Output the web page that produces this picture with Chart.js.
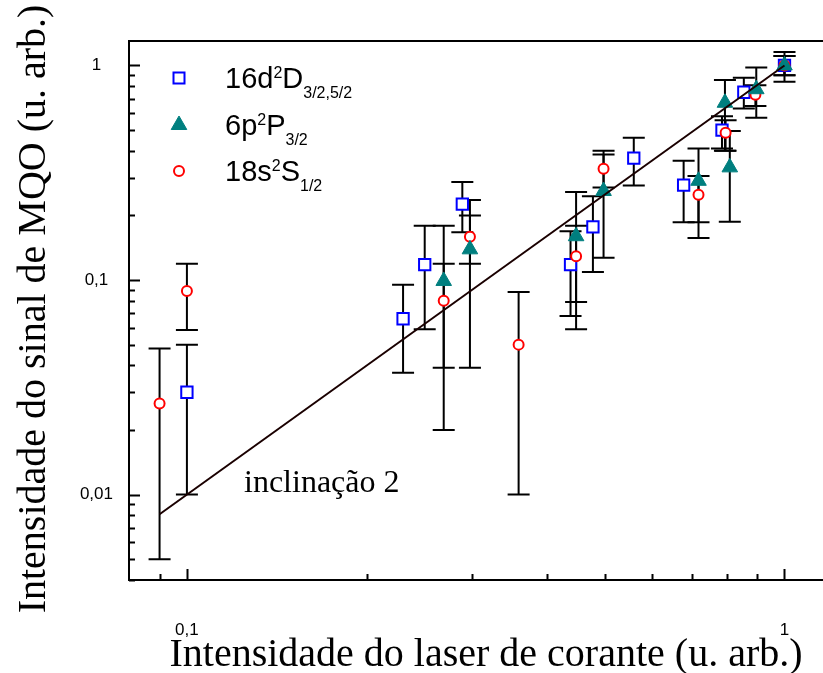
<!DOCTYPE html>
<html lang="pt">
<head>
<meta charset="UTF-8">
<title>Intensidade do sinal de MQO</title>
<style>
  html, body { margin: 0; padding: 0; background: #fff; overflow: hidden; }
  #chart { display: block; }
</style>
</head>
<body>
<canvas id="chart" width="823" height="673"></canvas>
<script src="https://cdn.jsdelivr.net/npm/chart.js@4.4.1/dist/chart.umd.min.js"></script>
<script>
// 16d 2D 3/2,5/2
var dX  = [0.1, 0.23, 0.25, 0.289, 0.4385, 0.478, 0.5595, 0.678, 0.786, 0.855, 1.0];
var dY  = [0.03, 0.066, 0.118, 0.226, 0.118, 0.177, 0.37, 0.277, 0.5, 0.75, 1.0];
var dLo = [0.01, 0.037, 0.059, 0.167, 0.068, 0.109, 0.276, 0.186, 0.41, 0.63, 0.9];
var dHi = [0.05, 0.095, 0.179, 0.286, 0.169, 0.246, 0.46, 0.36, 0.58, 0.877, 1.107];

// 6p 2P 3/2
var pX  = [0.269, 0.2976, 0.448, 0.498, 0.718, 0.795, 0.81, 0.897, 1.0];
var pY  = [0.099, 0.139, 0.16, 0.26, 0.29, 0.67, 0.335, 0.775, 1.0];
var pLo = [0.039, 0.039, 0.059, 0.127, 0.157, 0.40, 0.187, 0.571, 0.84];
var pHi = [0.179, 0.2, 0.257, 0.385, 0.41, 0.856, 0.495, 0.977, 1.156];

// 18s 2S 1/2
var sX  = [0.09, 0.1, 0.269, 0.2976, 0.359, 0.448, 0.498, 0.718, 0.797, 0.894, 1.0];
var sY  = [0.0266, 0.089, 0.08, 0.159, 0.05, 0.129, 0.33, 0.25, 0.486, 0.73, 1.0];
var sLo = [0.005, 0.0585, 0.02, 0.119, 0.01, 0.079, 0.27, 0.186, 0.40, 0.647, 0.9];
var sHi = [0.048, 0.119, 0.119, 0.236, 0.088, 0.179, 0.40, 0.305, 0.555, 0.808, 1.107];

// slope 2 line
var fitX = [0.09, 1.0];
var fitY = [0.0081, 1.0];

var xTicks = [0.1, 1];
var yTicks = [0.01, 0.1, 1];
var xRange = [0.08, 1.16];
var yRange = [0.004, 1.3];

var legendLabels = [
    [['16d', 'n'], ['2', 'sup'], ['D', 'n'], ['3/2,5/2', 'sub']],
    [['6p', 'n'], ['2', 'sup'], ['P', 'n'], ['3/2', 'sub']],
    [['18s', 'n'], ['2', 'sup'], ['S', 'n'], ['1/2', 'sub']]
];

var serif = "'Liberation Serif', 'Times New Roman', serif";
var sans = "'Liberation Sans', Arial, sans-serif";
var blue = '#0000ff', teal = '#007f7f', red = '#ff0000';

function pts(xs, ys) {
    return xs.map(function (x, i) { return { x: x, y: ys[i] }; });
}

function marker(ctx, style, x, y, color) {
    ctx.save();
    ctx.strokeStyle = color;
    ctx.fillStyle = color;
    ctx.lineWidth = 2;
    ctx.beginPath();
    if (style === 'rect') {
        ctx.rect(x - 5.5, y - 5.5, 11, 11);
        ctx.fillStyle = '#fff';
        ctx.fill();
        ctx.stroke();
    } else if (style === 'triangle') {
        ctx.lineWidth = 1;
        ctx.moveTo(x, y - 9);
        ctx.lineTo(x + 7.8, y + 4.5);
        ctx.lineTo(x - 7.8, y + 4.5);
        ctx.closePath();
        ctx.fill();
        ctx.stroke();
    } else {
        ctx.arc(x, y, 5, 0, Math.PI * 2);
        ctx.fillStyle = '#fff';
        ctx.fill();
        ctx.stroke();
    }
    ctx.restore();
}

function richText(ctx, parts, x, base) {
    parts.forEach(function (p) {
        var dy = 0;
        if (p[1] === 'n') {
            ctx.font = '29px ' + sans;
        } else {
            ctx.font = '16px ' + sans;
            dy = p[1] === 'sup' ? -10 : 10;
        }
        ctx.fillText(p[0], x, base + dy);
        x += ctx.measureText(p[0]).width;
    });
}

var errorBars = {
    id: 'errorBars',
    beforeDatasetsDraw: function (chart) {
        var ctx = chart.ctx, ys = chart.scales.y;
        ctx.save();
        ctx.strokeStyle = '#000';
        ctx.lineWidth = 2;
        chart.data.datasets.forEach(function (ds, i) {
            if (!ds.errLo) return;
            var meta = chart.getDatasetMeta(i);
            meta.data.forEach(function (pt, j) {
                var top = ys.getPixelForValue(ds.errHi[j]);
                var bot = ys.getPixelForValue(ds.errLo[j]);
                ctx.beginPath();
                ctx.moveTo(pt.x, top);
                ctx.lineTo(pt.x, bot);
                ctx.moveTo(pt.x - 11, top);
                ctx.lineTo(pt.x + 11, top);
                ctx.moveTo(pt.x - 11, bot);
                ctx.lineTo(pt.x + 11, bot);
                ctx.stroke();
            });
        });
        ctx.restore();
    }
};

var decorations = {
    id: 'decorations',
    afterDraw: function (chart) {
        var ctx = chart.ctx, a = chart.chartArea;
        var xs = chart.scales.x, ys = chart.scales.y;
        ctx.save();
        ctx.strokeStyle = '#000';
        ctx.lineWidth = 2;

        ctx.beginPath();
        ctx.moveTo(a.left - 1, a.top);
        ctx.lineTo(a.right, a.top);
        ctx.stroke();

        // inward log ticks
        ctx.beginPath();
        for (var e = -3; e <= 0; e++) {
            for (var m = 1; m <= 9; m++) {
                var v = m * Math.pow(10, e);
                var len = m === 1 ? 11 : 6;
                if (v >= ys.min && v <= ys.max) {
                    var py = Math.round(ys.getPixelForValue(v)) + 0.5;
                    ctx.moveTo(a.left, py);
                    ctx.lineTo(a.left + len, py);
                }
                if (v > xs.min && v <= xs.max) {
                    var px = Math.round(xs.getPixelForValue(v)) + 0.5;
                    ctx.moveTo(px, a.bottom);
                    ctx.lineTo(px, a.bottom - len);
                }
            }
        }
        ctx.stroke();

        // legend
        var styles = ['rect', 'triangle', 'circle'];
        var colors = [blue, teal, red];
        var rows = [78, 125, 171];
        ctx.fillStyle = '#000';
        ctx.textAlign = 'left';
        ctx.textBaseline = 'alphabetic';
        for (var i = 0; i < 3; i++) {
            marker(ctx, styles[i], 179, rows[i], colors[i]);
            richText(ctx, legendLabels[i], 225, rows[i] + 10);
        }

        ctx.font = '32px ' + serif;
        ctx.fillText('inclinação 2', 244, 492);

        ctx.textAlign = 'center';
        ctx.font = '40px ' + serif;
        ctx.fillText('Intensidade do laser de corante (u. arb.)', 486, 666);

        ctx.translate(45, 309);
        ctx.rotate(-Math.PI / 2);
        ctx.fillText('Intensidade do sinal de MQO (u. arb.)', 0, 0);
        ctx.restore();
    }
};

function commaLabel(v) {
    return String(v).replace('.', ',');
}

function fixTicks(list, range) {
    return function (scale) {
        scale.ticks = list.map(function (v) { return { value: v }; });
        scale.min = range[0];
        scale.max = range[1];
    };
}

new Chart(document.getElementById('chart'), {
    type: 'scatter',
    data: {
        datasets: [
            {
                data: pts(fitX, fitY),
                showLine: true,
                borderColor: '#1a0000',
                borderWidth: 2,
                pointRadius: 0,
                order: 0
            },
            {
                data: pts(pX, pY),
                errLo: pLo, errHi: pHi,
                pointStyle: 'triangle',
                pointRadius: 9,
                backgroundColor: teal,
                borderColor: teal,
                borderWidth: 1,
                order: 1
            },
            {
                data: pts(sX, sY),
                errLo: sLo, errHi: sHi,
                pointStyle: 'circle',
                pointRadius: 5,
                backgroundColor: '#fff',
                borderColor: red,
                borderWidth: 2,
                order: 2
            },
            {
                data: pts(dX, dY),
                errLo: dLo, errHi: dHi,
                pointStyle: 'rect',
                pointRadius: 8,
                backgroundColor: '#fff',
                borderColor: blue,
                borderWidth: 2,
                order: 3
            }
        ]
    },
    options: {
        responsive: false,
        animation: false,
        devicePixelRatio: 1,
        layout: { autoPadding: false, padding: { top: 41, right: 0, bottom: 0, left: 0 } },
        plugins: {
            legend: { display: false },
            tooltip: { enabled: false }
        },
        scales: {
            x: {
                type: 'logarithmic',
                bounds: 'data',
                min: xRange[0],
                max: xRange[1],
                grid: { display: false, drawTicks: false, tickLength: 0 },
                border: { display: true, color: '#000', width: 2 },
                ticks: {
                    color: '#000',
                    font: { family: sans, size: 17 },
                    padding: 40,
                    maxRotation: 0,
                    callback: commaLabel
                },
                afterBuildTicks: fixTicks(xTicks, xRange),
                afterFit: function (scale) {
                    scale.height = 93;
                    scale.paddingLeft = 0;
                    scale.paddingRight = 0;
                }
            },
            y: {
                type: 'logarithmic',
                bounds: 'data',
                min: yRange[0],
                max: yRange[1],
                grid: { display: false, drawTicks: false, tickLength: 0 },
                border: { display: true, color: '#000', width: 2 },
                ticks: {
                    color: '#000',
                    font: { family: sans, size: 17 },
                    padding: 16,
                    crossAlign: 'center',
                    callback: commaLabel
                },
                afterBuildTicks: fixTicks(yTicks, yRange),
                afterFit: function (scale) {
                    scale.width = 129;
                    scale.paddingTop = 0;
                    scale.paddingBottom = 0;
                }
            }
        }
    },
    plugins: [errorBars, decorations]
});
</script>
</body>
</html>
